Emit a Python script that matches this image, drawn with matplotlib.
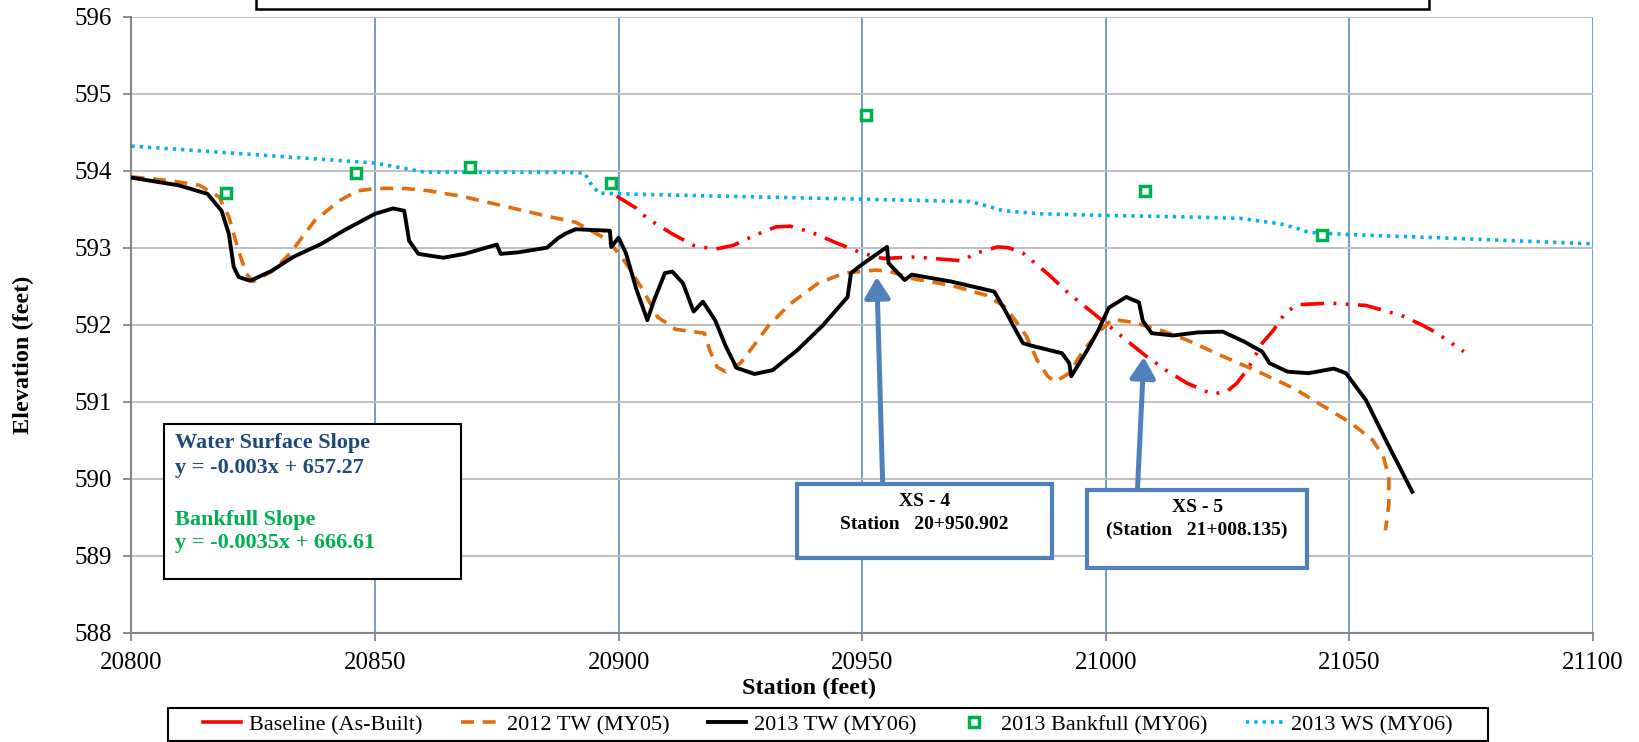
import matplotlib
matplotlib.use("Agg")
import matplotlib.pyplot as plt
from matplotlib.patches import Rectangle
from matplotlib.lines import Line2D

plt.rcParams['font.family'] = ['Liberation Serif', 'DejaVu Serif']

# ---------------- data ----------------
base_x = [20899.6, 20903.7, 20905.9, 20911.0, 20915.4, 20919.8, 20923.5, 20927.9, 20932.3, 20935.2,
          20939.6, 20944.8, 20949.9, 20954.3, 20960.9, 20964.6, 20970.4, 20973.4, 20977.8, 20980.0,
          20983.0, 20988.1, 20992.5, 20998.4, 21004.2, 21007.9, 21012.3, 21016.7, 21021.8, 21024.8,
          21026.9, 21029.2, 21032.1, 21034.3, 21036.9, 21039.4, 21046.0, 21053.4, 21060.7, 21065.1,
          21068.0, 21073.5]
base_y = [593.67, 593.51, 593.38, 593.18, 593.03, 592.98, 593.03, 593.16, 593.27, 593.28,
          593.20, 593.06, 592.93, 592.86, 592.88, 592.86, 592.83, 592.93, 593.01, 593.00,
          592.93, 592.66, 592.40, 592.10, 591.80, 591.61, 591.41, 591.24, 591.10, 591.13,
          591.24, 591.43, 591.76, 591.92, 592.16, 592.26, 592.28, 592.25, 592.12, 591.99,
          591.89, 591.65]

tw12_x = [20800, 20808, 20814, 20818, 20820, 20822, 20823.6, 20825, 20829, 20832.5,
          20837.6, 20842.7, 20846.4, 20850.8, 20856, 20861, 20868.4, 20875.8, 20886, 20891.2,
          20897.8, 20901.5, 20905, 20908, 20911.7, 20917.6, 20918.7, 20920.2, 20922, 20925,
          20928.6, 20930.8, 20935.2, 20941, 20946.3, 20952.9, 20955.8, 20960.2, 20968.3, 20975.6,
          20979.3, 20981.5, 20983.7, 20985.9, 20988.1, 20989.6, 20992.5, 20995.4, 20999, 21001.3,
          21005.7, 21011.6, 21016.7, 21024, 21031.3, 21038.7, 21046, 21050.4, 21054.8, 21057,
          21058.1, 21058.1, 21057.4]
tw12_y = [593.92, 593.87, 593.81, 593.66, 593.40, 592.96, 592.66, 592.56, 592.70, 592.92,
          593.35, 593.61, 593.74, 593.77, 593.77, 593.74, 593.66, 593.55, 593.40, 593.33,
          593.10, 592.80, 592.45, 592.10, 591.94, 591.89, 591.67, 591.45, 591.39, 591.50,
          591.80, 591.99, 592.27, 592.54, 592.67, 592.71, 592.69, 592.60, 592.51, 592.38,
          592.23, 592.05, 591.85, 591.54, 591.33, 591.26, 591.37, 591.67, 591.93, 592.07,
          592.03, 591.92, 591.80, 591.59, 591.39, 591.17, 590.89, 590.72, 590.50, 590.28,
          590.02, 589.67, 589.33]

tw13_x = [20800, 20809.7, 20815.6, 20818.5, 20820, 20821, 20822, 20824.4, 20828.8, 20833.2,
          20839, 20843.5, 20850, 20853.7, 20856, 20857, 20858.9, 20864, 20868.4, 20875,
          20875.8, 20879.4, 20885.3, 20887.5, 20889, 20891.2, 20898.2, 20898.5, 20900, 20901.5,
          20903.7, 20905.9, 20907.3, 20909.5, 20911, 20913.2, 20915.4, 20917.3, 20919.8, 20922,
          20924.2, 20927.9, 20931.6, 20936.7, 20941.9, 20947, 20947.7, 20949.9, 20955.1, 20955.4,
          20958.7, 20960.2, 20968.3, 20977.1, 20979.3, 20981.5, 20983, 20985.2, 20991, 20992.5,
          20992.9, 20996.2, 20998.4, 21000.6, 21004.2, 21006.8, 21007.6, 21009.4, 21013.8, 21018.9,
          21024, 21028.4, 21032.1, 21033.6, 21037.3, 21041.6, 21046.8, 21049.3, 21053.4, 21057.8,
          21062.9]
tw13_y = [593.91, 593.81, 593.70, 593.48, 593.18, 592.75, 592.62, 592.57, 592.70, 592.88,
          593.05, 593.22, 593.44, 593.51, 593.48, 593.09, 592.92, 592.87, 592.92, 593.04,
          592.92, 592.94, 593.00, 593.12, 593.18, 593.24, 593.22, 593.01, 593.13, 592.93,
          592.45, 592.06, 592.32, 592.67, 592.69, 592.54, 592.17, 592.30, 592.06, 591.72,
          591.44, 591.36, 591.41, 591.67, 591.99, 592.36, 592.67, 592.78, 593.01, 592.80,
          592.58, 592.65, 592.56, 592.43, 592.19, 591.93, 591.76, 591.72, 591.63, 591.50,
          591.33, 591.67, 591.92, 592.22, 592.36, 592.29, 592.05, 591.89, 591.86, 591.90,
          591.91, 591.78, 591.65, 591.50, 591.39, 591.37, 591.43, 591.37, 591.02, 590.46,
          589.83]

bkf_x = [20819.5, 20846.0, 20869.5, 20898.5, 20950.8, 21008.1, 21044.4]
bkf_y = [593.71, 593.97, 594.05, 593.84, 594.72, 593.73, 593.17]

ws_x = [20800, 20850, 20860.4, 20888, 20893, 20894.5, 20896, 20900, 20920.6, 20950,
        20972, 20974, 20979, 20986.6, 20999, 21016.7, 21027.7, 21035.8, 21039.4, 21041.6,
        21050, 21068, 21100]
ws_y = [594.32, 594.10, 593.98, 593.98, 593.97, 593.81, 593.71, 593.70, 593.67, 593.63,
        593.60, 593.57, 593.48, 593.44, 593.42, 593.40, 593.38, 593.31, 593.25, 593.20,
        593.17, 593.13, 593.05]

x_ticks = [20800, 20850, 20900, 20950, 21000, 21050, 21100]
y_ticks = [588, 589, 590, 591, 592, 593, 594, 595, 596]

labels = ["Baseline (As-Built)", "2012 TW (MY05)", "2013 TW (MY06)",
          "2013 Bankfull (MY06)", "2013 WS (MY06)"]

# ---------------- figure ----------------
W, H = 1640, 742
fig = plt.figure(figsize=(W / 100, H / 100), dpi=100)
ax_l, ax_r, ax_t, ax_b = 131.4, 1593.0, 16.7, 632.7
ax = fig.add_axes([ax_l / W, 1 - ax_b / H, (ax_r - ax_l) / W, (ax_b - ax_t) / H])

ax.set_xlim(20800, 21100)
ax.set_ylim(588, 596)
ax.set_xticks(x_ticks)
ax.set_yticks(y_ticks)
ax.set_axisbelow(True)

ax.yaxis.grid(True, color='#BFBFBF', lw=1.4)
ax.xaxis.grid(True, color='#4F81BD', lw=1.1)
for s in ['top', 'right']:
    ax.spines[s].set_visible(False)
for s in ['left', 'bottom']:
    ax.spines[s].set_color('#868686')
    ax.spines[s].set_linewidth(1.5)
ax.tick_params(axis='both', direction='out', length=6, width=1.3, color='#868686',
               labelsize=18, pad=8)

red, orange, green, blue = '#FF0000', '#E46C0A', '#00B050', '#00B0F0'

l1, = ax.plot(base_x, base_y, color=red, lw=2.6,
              linestyle=(0, (6.5, 2.6, 0.8, 2.6, 0.8, 2.6)), zorder=4)
l2, = ax.plot(tw12_x, tw12_y, color=orange, lw=2.6, linestyle=(0, (3.6, 2.4)), zorder=3)
l3, = ax.plot(tw13_x, tw13_y, color='black', lw=2.8, zorder=5)
l4, = ax.plot(bkf_x, bkf_y, ls='none', marker='s', ms=6.5, mfc='white', mec=green,
              mew=2.5, zorder=6)
l5, = ax.plot(ws_x, ws_y, color=blue, lw=2.6, linestyle=(0, (0.9, 1.4)), zorder=4)

# equation box
ax.add_patch(Rectangle((20806.7, 588.70), 60.9, 2.01, fc='white', ec='black', lw=1.5, zorder=7))
eq_kw = dict(fontsize=16, fontweight='bold', ha='left', va='center', zorder=8)
ax.text(20809.0, 590.47, "Water Surface Slope", color='#1F497D', **eq_kw)
ax.text(20809.0, 590.14, "y = -0.003x + 657.27", color='#1F497D', **eq_kw)
ax.text(20809.0, 589.47, "Bankfull Slope", color=green, **eq_kw)
ax.text(20809.0, 589.16, "y = -0.0035x + 666.61", color=green, **eq_kw)

# cross-section callouts
box_blue = '#4F81BD'
ax.add_patch(Rectangle((20936.6, 588.97), 52.4, 0.96, fc='white', ec=box_blue, lw=3, zorder=7))
ax.text(20962.8, 589.70, "XS - 4", fontsize=14, fontweight='bold', ha='center', va='center', zorder=8)
ax.text(20962.8, 589.41, "Station   20+950.902", fontsize=14, fontweight='bold',
        ha='center', va='center', zorder=8)
ax.add_patch(Rectangle((20996.2, 588.84), 45.1, 1.01, fc='white', ec=box_blue, lw=3, zorder=7))
ax.text(21018.75, 589.63, "XS - 5", fontsize=14, fontweight='bold', ha='center', va='center', zorder=8)
ax.text(21018.75, 589.33, "(Station   21+008.135)", fontsize=14, fontweight='bold',
        ha='center', va='center', zorder=8)

arrow_kw = dict(arrowstyle='-|>,head_width=0.55,head_length=0.9', color=box_blue, lw=3.6,
                mutation_scale=14, shrinkA=0, shrinkB=0)
ax.annotate('', xy=(20953.0, 592.62), xytext=(20954.2, 589.95), arrowprops=arrow_kw, zorder=8)
ax.annotate('', xy=(21007.8, 591.58), xytext=(21006.5, 589.86), arrowprops=arrow_kw, zorder=8)

# axis labels
fig.text(809 / W, 1 - 688 / H, "Station (feet)", fontsize=17.5, fontweight='bold',
         ha='center', va='center')
fig.text(23 / W, 1 - 355 / H, "Elevation (feet)", fontsize=17.5, fontweight='bold',
         ha='center', va='center', rotation=90)

# top (cropped) title box
fig.patches.append(Rectangle((256 / W, 1 - 9 / H), (1429 - 256) / W, 0.2, fc='white',
                             ec='black', lw=1.8, transform=fig.transFigure, figure=fig))

# legend frame
fig.patches.append(Rectangle((168 / W, 1 - 741 / H), (1488 - 168) / W, (741 - 708) / H,
                             fc='white', ec='black', lw=1.5, transform=fig.transFigure,
                             figure=fig))

# legend (baseline shown as a solid dash, as in the reference)
base_handle = Line2D([], [], color=red, lw=2.6)
leg = fig.legend([base_handle, l2, l3, l4, l5], labels, loc='center',
                 bbox_to_anchor=(828 / W, 1 - 725 / H), bbox_transform=fig.transFigure,
                 ncol=5, fontsize=16, frameon=False, handlelength=1.7,
                 handletextpad=0.35, columnspacing=1.75, borderpad=0.1, borderaxespad=0)

fig.savefig("out.png", dpi=100)
